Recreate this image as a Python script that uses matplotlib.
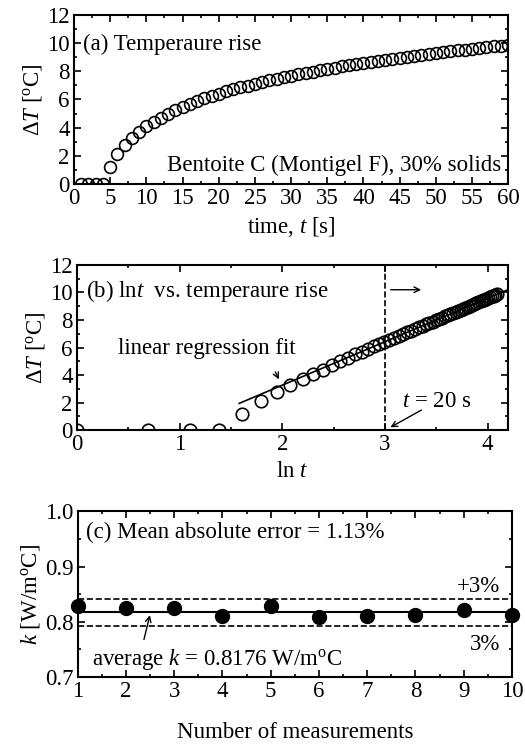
import matplotlib.pyplot as plt
import numpy as np
from matplotlib.ticker import MultipleLocator

plt.rcParams['font.family'] = ['Liberation Serif', 'DejaVu Serif']
plt.rcParams['mathtext.fontset'] = 'custom'
plt.rcParams['mathtext.it'] = 'Liberation Serif:italic'
plt.rcParams['mathtext.rm'] = 'Liberation Serif'

# 时间 [s] 与温升 [°C]
time_s = np.arange(1, 61)
delta_T = [0.0, 0.0, 0.0, 0.0, 1.2, 2.1, 2.8, 3.25, 3.7, 4.1,
           4.4, 4.7, 5.0, 5.25, 5.5, 5.7, 5.9, 6.08, 6.25, 6.42,
           6.57, 6.71, 6.85, 6.98, 7.1, 7.23, 7.35, 7.46, 7.57, 7.68,
           7.78, 7.88, 7.98, 8.08, 8.17, 8.26, 8.35, 8.43, 8.51, 8.59,
           8.67, 8.75, 8.82, 8.89, 8.96, 9.03, 9.1, 9.17, 9.23, 9.3,
           9.36, 9.42, 9.48, 9.54, 9.6, 9.66, 9.71, 9.77, 9.82, 9.88]

# 导热系数测量
meas_no = np.arange(1, 11)
k_values = [0.829, 0.825, 0.825, 0.810, 0.828, 0.808, 0.810, 0.813, 0.822, 0.813]
k_avg = 0.8176

fs = 16.5
fig = plt.figure(figsize=(5.25, 7.45), dpi=100)


def style(ax):
    ax.tick_params(which='both', direction='in', top=True, right=True,
                   labelsize=fs, width=1.2, pad=3)
    ax.tick_params(which='major', length=5)
    ax.tick_params(which='minor', length=2.5)
    for s in ax.spines.values():
        s.set_linewidth(1.5)


# (a) 温升曲线
ax1 = fig.add_axes([0.141, 0.753, 0.827, 0.227])
ax1.plot(time_s, delta_T, 'o', mfc='none', mec='black', ms=8.5, mew=1.2)
ax1.set_xlim(0, 60)
ax1.set_ylim(0, 12)
ax1.xaxis.set_major_locator(MultipleLocator(5))
ax1.xaxis.set_minor_locator(MultipleLocator(2.5))
ax1.yaxis.set_major_locator(MultipleLocator(2))
ax1.yaxis.set_minor_locator(MultipleLocator(1))
style(ax1)
ax1.set_xlabel('time, $\\it{t}$ [s]', fontsize=fs, labelpad=4)
ax1.set_ylabel('$\\it{\\Delta T}$ [$^{\\rm o}$C]', fontsize=fs, labelpad=2)
ax1.text(1.3, 9.9, '(a) Temperaure rise', fontsize=fs, va='center')
ax1.text(59, 1.3, 'Bentoite C (Montigel F), 30% solids', fontsize=fs,
         ha='right', va='center')

# (b) ln t 与温升
ln_t = np.log(time_s)
dT = np.array(delta_T)
sel = time_s >= 20
slope, intercept = np.polyfit(ln_t[sel], dT[sel], 1)
xfit = np.array([1.58, 4.2])

ax2 = fig.add_axes([0.1467, 0.4228, 0.821, 0.2215])
ax2.plot(ln_t, delta_T, 'o', mfc='none', mec='black', ms=9, mew=1.2)
ax2.plot(xfit, slope * xfit + intercept, color='black', lw=1.2)
ax2.axvline(3.0, color='black', ls='--', lw=1.2)
ax2.set_xlim(0, 4.2)
ax2.set_ylim(0, 12)
ax2.xaxis.set_major_locator(MultipleLocator(1))
ax2.xaxis.set_minor_locator(MultipleLocator(0.5))
ax2.yaxis.set_major_locator(MultipleLocator(2))
ax2.yaxis.set_minor_locator(MultipleLocator(1))
style(ax2)
ax2.set_xlabel('ln $\\it{t}$', fontsize=fs, labelpad=4)
ax2.set_ylabel('$\\it{\\Delta T}$ [$^{\\rm o}$C]', fontsize=fs, labelpad=2)
ax2.text(0.09, 10.1, '(b) ln$\\it{t}$  vs. temperaure rise', fontsize=fs,
         va='center')
ax2.annotate('', xy=(3.38, 10.2), xytext=(3.03, 10.2),
             arrowprops=dict(arrowstyle='->', color='black', lw=1))
ax2.text(0.40, 5.95, 'linear regression fit', fontsize=fs, va='center')
ax2.annotate('', xy=(1.98, 3.5), xytext=(1.92, 4.4),
             arrowprops=dict(arrowstyle='->', color='black', lw=1))
ax2.text(3.17, 2.1, '$\\it{t}$ = 20 s', fontsize=fs, va='center')
ax2.annotate('', xy=(3.03, 0.1), xytext=(3.38, 1.55),
             arrowprops=dict(arrowstyle='->', color='black', lw=1))

# (c) 导热系数
ax3 = fig.add_axes([0.148, 0.0913, 0.827, 0.2223])
ax3.plot(meas_no, k_values, 'o', color='black', ms=10, clip_on=False,
         zorder=3)
ax3.axhline(k_avg, color='black', lw=1.5)
ax3.axhline(k_avg * 1.03, color='black', ls='--', lw=1.2)
ax3.axhline(k_avg * 0.97, color='black', ls='--', lw=1.2)
ax3.set_xlim(1, 10)
ax3.set_ylim(0.7, 1.0)
ax3.xaxis.set_major_locator(MultipleLocator(1))
ax3.xaxis.set_minor_locator(MultipleLocator(0.5))
ax3.yaxis.set_major_locator(MultipleLocator(0.1))
ax3.yaxis.set_minor_locator(MultipleLocator(0.05))
style(ax3)
ax3.set_xlabel('Number of measurements', fontsize=fs, labelpad=14)
ax3.set_ylabel('$\\it{k}$ [W/m$^{\\rm o}$C]', fontsize=fs, labelpad=2)
ax3.text(1.17, 0.962, '(c) Mean absolute error = 1.13%', fontsize=fs,
         va='center')
ax3.text(9.75, 0.864, '+3%', fontsize=fs, ha='right', va='center')
ax3.text(9.75, 0.759, '3%', fontsize=fs, ha='right', va='center')
ax3.text(1.29, 0.731, 'average $\\it{k}$ = 0.8176 W/m$^{\\rm o}$C',
         fontsize=fs, va='center')
ax3.annotate('', xy=(2.51, 0.817), xytext=(2.36, 0.763),
             arrowprops=dict(arrowstyle='->', color='black', lw=1))

fig.savefig('out.png', dpi=100)
